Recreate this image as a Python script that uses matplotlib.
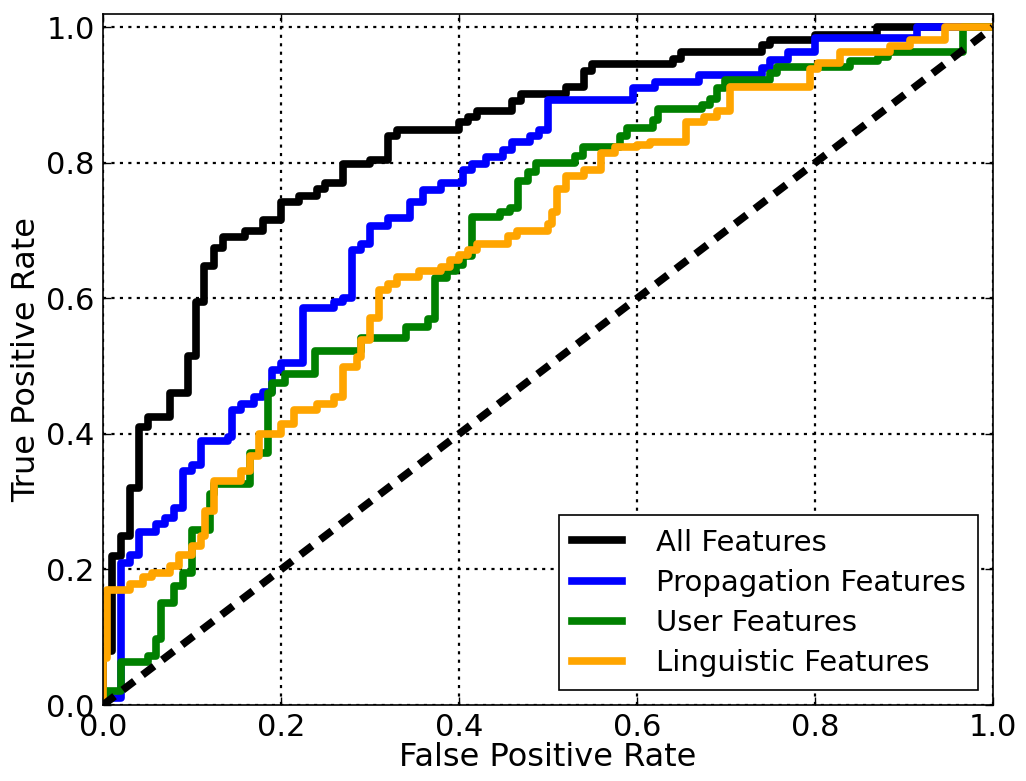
import numpy as np
import matplotlib
matplotlib.use('Agg')
import matplotlib.pyplot as plt

# step points (fpr where tpr steps up, tpr level after the step)
all_fpr = [0, 0, 0.01, 0.02, 0.03, 0.04, 0.05, 0.075, 0.095, 0.105, 0.113, 0.125, 0.135, 0.16, 0.18,
           0.2, 0.22, 0.24, 0.25, 0.27, 0.3, 0.32, 0.33, 0.4, 0.41, 0.42, 0.46, 0.47, 0.52, 0.54, 0.55,
           0.64, 0.65, 0.74, 0.75, 0.80, 0.87, 1.0]
all_tpr = [0, 0.08, 0.22, 0.25, 0.32, 0.41, 0.425, 0.46, 0.515, 0.595, 0.648, 0.674, 0.69, 0.70, 0.716,
           0.743, 0.751, 0.761, 0.771, 0.798, 0.805, 0.84, 0.849, 0.86, 0.868, 0.876, 0.892, 0.902, 0.912, 0.936, 0.946,
           0.954, 0.964, 0.974, 0.982, 0.989, 1.0, 1.0]

prop_fpr = [0, 0.005, 0.02, 0.03, 0.04, 0.06, 0.07, 0.08, 0.09, 0.1, 0.11, 0.14, 0.145, 0.155, 0.17,
            0.18, 0.19, 0.2, 0.225, 0.26, 0.27, 0.28, 0.29, 0.3, 0.32, 0.345, 0.36, 0.38, 0.405, 0.415,
            0.43, 0.45, 0.46, 0.48, 0.49, 0.5, 0.595, 0.62, 0.67, 0.74, 0.75, 0.77, 0.8, 0.915, 1.0]
prop_tpr = [0, 0.01, 0.21, 0.222, 0.256, 0.267, 0.276, 0.291, 0.345, 0.354, 0.39, 0.396, 0.435, 0.444, 0.455,
            0.462, 0.495, 0.505, 0.586, 0.594, 0.6, 0.672, 0.681, 0.707, 0.718, 0.743, 0.76, 0.771, 0.789, 0.798,
            0.808, 0.819, 0.831, 0.84, 0.849, 0.893, 0.91, 0.92, 0.929, 0.94, 0.952, 0.963, 0.984, 1.0, 1.0]

user_fpr = [0, 0.005, 0.02, 0.05, 0.06, 0.065, 0.08, 0.09, 0.1, 0.12, 0.125, 0.165, 0.185, 0.19, 0.205,
            0.238, 0.29, 0.341, 0.365, 0.373, 0.386, 0.397, 0.405, 0.415, 0.446, 0.457, 0.466, 0.477, 0.487,
            0.53, 0.539, 0.581, 0.589, 0.618, 0.624, 0.673, 0.682, 0.69, 0.699, 0.749, 0.757, 0.839, 0.871,
            0.882, 0.966, 1.0]
user_tpr = [0, 0.021, 0.063, 0.073, 0.098, 0.15, 0.176, 0.195, 0.259, 0.312, 0.326, 0.372, 0.461, 0.475, 0.489,
            0.522, 0.542, 0.558, 0.569, 0.63, 0.64, 0.65, 0.662, 0.72, 0.727, 0.734, 0.773, 0.787, 0.80,
            0.81, 0.824, 0.839, 0.852, 0.864, 0.879, 0.886, 0.894, 0.911, 0.923, 0.933, 0.942, 0.95, 0.957,
            0.964, 1.0, 1.0]

ling_fpr = [0, 0, 0.005, 0.03, 0.045, 0.055, 0.075, 0.085, 0.1, 0.11, 0.115, 0.125, 0.155, 0.165, 0.175,
            0.2, 0.215, 0.24, 0.26, 0.27, 0.285, 0.29, 0.3, 0.31, 0.32, 0.33, 0.355, 0.38, 0.39, 0.4,
            0.41, 0.42, 0.455, 0.465, 0.5, 0.505, 0.51, 0.52, 0.54, 0.56, 0.575, 0.6, 0.615, 0.655, 0.675,
            0.69, 0.705, 0.794, 0.803, 0.828, 0.884, 0.907, 0.946, 1.0]
ling_tpr = [0, 0.07, 0.17, 0.179, 0.189, 0.195, 0.205, 0.222, 0.234, 0.249, 0.286, 0.33, 0.345, 0.367, 0.4,
            0.414, 0.435, 0.444, 0.455, 0.499, 0.514, 0.539, 0.571, 0.613, 0.622, 0.631, 0.64, 0.646, 0.657, 0.664,
            0.672, 0.681, 0.692, 0.70, 0.71, 0.727, 0.762, 0.78, 0.789, 0.815, 0.824, 0.827, 0.831, 0.86, 0.868,
            0.876, 0.912, 0.938, 0.948, 0.964, 0.972, 0.982, 1.0, 1.0]

plt.rcParams['xtick.direction'] = 'in'
plt.rcParams['ytick.direction'] = 'in'
plt.rcParams['font.family'] = 'DejaVu Sans'

fig = plt.figure(figsize=(10.26, 7.81), dpi=100)
ax = fig.add_axes([0.1004, 0.0973, 0.8674, 0.885])

lw = 5.5
ax.plot(all_fpr, all_tpr, color='k', lw=lw, drawstyle='steps-post', label='All Features')
ax.plot(prop_fpr, prop_tpr, color='#0000ff', lw=lw, drawstyle='steps-post', label='Propagation Features')
ax.plot(user_fpr, user_tpr, color='#008000', lw=lw, drawstyle='steps-post', label='User Features')
ax.plot(ling_fpr, ling_tpr, color='orange', lw=lw, drawstyle='steps-post', label='Linguistic Features')
ax.plot([0, 1], [0, 1], color='k', lw=lw, linestyle=(0, (1.9, 1.35)))

ax.set_xlim(0, 1)
ax.set_ylim(0, 1.02)
ax.set_xticks(np.arange(0, 1.01, 0.2))
ax.set_yticks(np.arange(0, 1.01, 0.2))
ax.tick_params(labelsize=22, top=True, right=True, length=6, width=1, pad=6)
ax.grid(True, color='k', linestyle=(0, (1.4, 2.4)), lw=1.6)
ax.set_xlabel('False Positive Rate', fontsize=23, labelpad=0)
ax.set_ylabel('True Positive Rate', fontsize=23, labelpad=3)
for s in ax.spines.values():
    s.set_linewidth(1.2)

leg = ax.legend(loc='lower right', fontsize=21, fancybox=False, edgecolor='k',
                framealpha=1, handlelength=1.7, borderpad=0.45, handletextpad=1.15,
                labelspacing=0.42, borderaxespad=0.5)
leg.get_frame().set_linewidth(1.2)

fig.savefig('out.png', dpi=100)
